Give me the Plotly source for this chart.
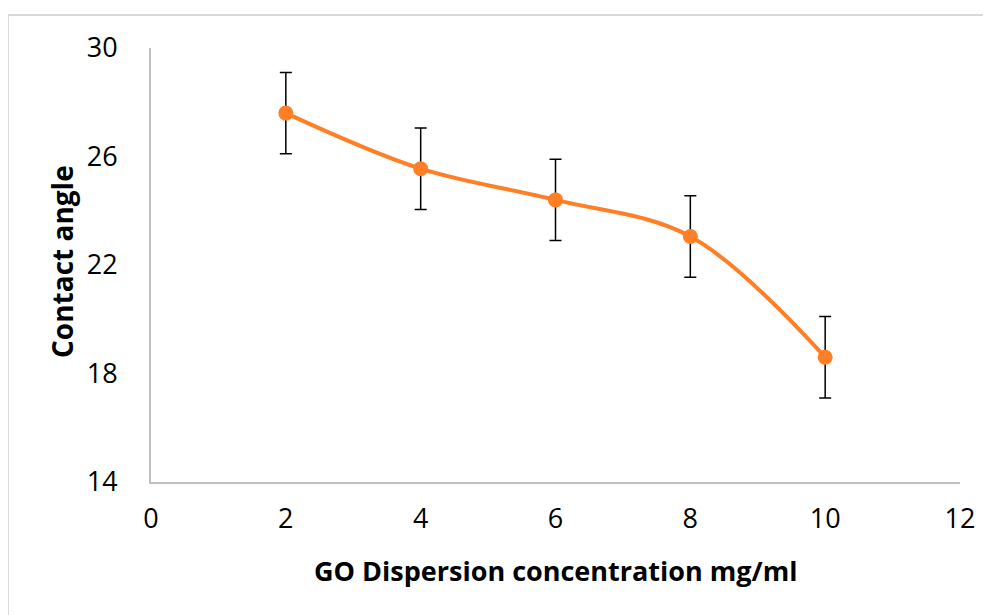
import plotly.graph_objects as go

concentration = [2, 4, 6, 8, 10]
contact_angle = [27.6, 25.55, 24.4, 23.05, 18.6]
error = [1.5, 1.5, 1.5, 1.5, 1.5]

x_ticks = [0, 2, 4, 6, 8, 10, 12]
y_ticks = [14, 18, 22, 26, 30]

OFF = 8  # default page body margin
W, H = 991 - OFF, 615 - OFF
L, T = 151 - OFF, 48 - OFF
pw, ph = 809, 434
R, B = W - L - pw, H - T - ph

FONT = "Open Sans"

def px_x(p):
    return (p - OFF - L) / pw

def px_y(p):
    return 1 - (p - OFF - T) / ph

fig = go.Figure()
fig.add_trace(go.Scatter(
    x=concentration, y=contact_angle,
    mode="lines+markers",
    line=dict(color="#FF7F27", width=4, shape="spline", smoothing=1.0),
    marker=dict(color="#FF7F27", size=15),
    error_y=dict(type="data", array=error, visible=True, color="black", thickness=1.5, width=6),
    showlegend=False,
))

fig.update_layout(
    width=W, height=H,
    margin=dict(l=L, r=R, t=T, b=B, pad=0),
    paper_bgcolor="white", plot_bgcolor="white",
    font=dict(family=FONT, color="black"),
    xaxis=dict(range=[0, 12], tickvals=x_ticks, showgrid=False, zeroline=False,
               showline=True, linecolor="#BFBFBF", linewidth=2, ticks="",
               tickfont=dict(size=27, family=FONT), ticklabelstandoff=12),
    yaxis=dict(range=[14, 30], tickvals=y_ticks, showgrid=False, zeroline=False,
               showline=True, linecolor="#BFBFBF", linewidth=2, ticks="",
               tickfont=dict(size=27, family=FONT), ticklabelstandoff=26),
    annotations=[
        dict(text="<b>GO Dispersion concentration mg/ml</b>", xref="paper", yref="paper",
             x=px_x(555), y=px_y(570), xanchor="center", yanchor="middle",
             showarrow=False, font=dict(size=27, family=FONT)),
        dict(text="<b>Contact angle</b>", xref="paper", yref="paper",
             x=px_x(62), y=px_y(262), xanchor="center", yanchor="middle", textangle=-90,
             showarrow=False, font=dict(size=28, family=FONT)),
    ],
    shapes=[
        dict(type="line", xref="paper", yref="paper",
             x0=px_x(8), x1=px_x(1010), y0=px_y(15), y1=px_y(15),
             line=dict(color="#D9D9D9", width=2)),
        dict(type="line", xref="paper", yref="paper",
             x0=px_x(8), x1=px_x(8), y0=px_y(15), y1=px_y(640),
             line=dict(color="#D9D9D9", width=2)),
    ],
)

fig.write_html("out.html")
